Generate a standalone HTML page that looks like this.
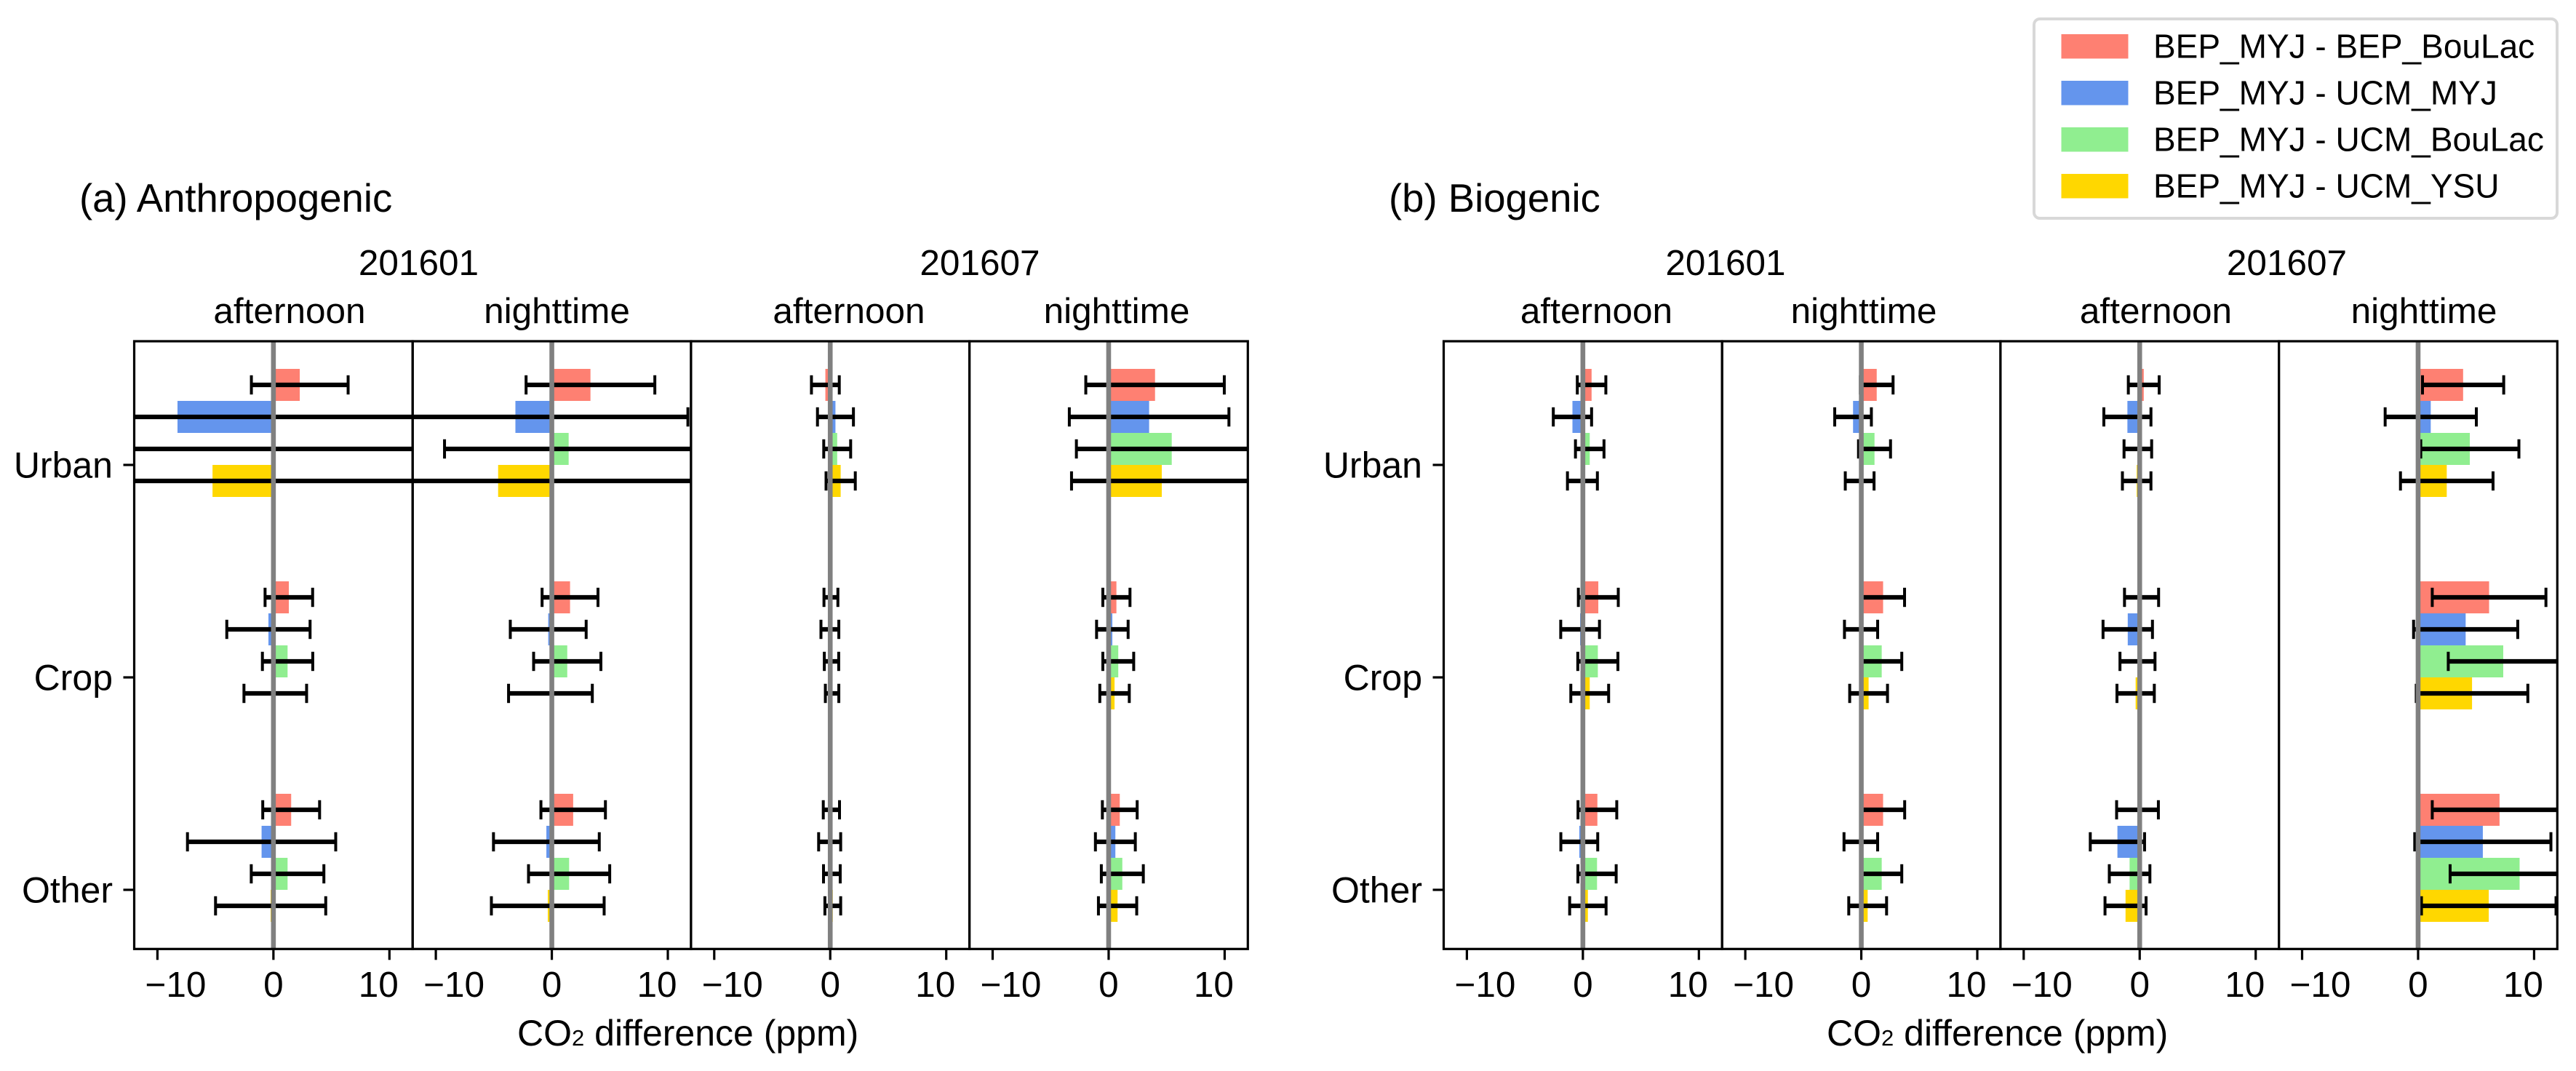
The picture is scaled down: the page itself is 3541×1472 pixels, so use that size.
<!DOCTYPE html>
<html lang="en">
<head>
<meta charset="utf-8">
<title>CO2 difference by land use</title>
<style>
html,body{margin:0;padding:0;background:#fff;}
body{width:3541px;height:1472px;overflow:hidden;}
svg{display:block;font-family:"Liberation Sans",Arial,sans-serif;}
text{fill:#000;}
</style>
</head>
<body>
<svg id="chart" xmlns="http://www.w3.org/2000/svg" width="3541" height="1472" viewBox="0 0 3541 1472">
  <rect x="0" y="0" width="3541" height="1472" fill="#fff"/>
  <text x="109" y="291" font-size="54.5">(a) Anthropogenic</text>
  <text x="1909" y="291" font-size="54.5">(b) Biogenic</text>
  <text x="575.5" y="378" font-size="49.5" text-anchor="middle">201601</text>
  <text x="1347" y="378" font-size="49.5" text-anchor="middle">201607</text>
  <text x="2372" y="378" font-size="49.5" text-anchor="middle">201601</text>
  <text x="3143.5" y="378" font-size="49.5" text-anchor="middle">201607</text>
  <text x="711" y="1437" font-size="50">CO<tspan font-size="31">2</tspan> difference (ppm)</text>
  <text x="2511" y="1437" font-size="50">CO<tspan font-size="31">2</tspan> difference (ppm)</text>
  <g id="plots"></g>
  <g>
    <rect x="2796" y="26" width="719" height="274" rx="8" ry="8" fill="#fff" stroke="#d8d8d8" stroke-width="4"/>
    <rect x="2833.5" y="47" width="92" height="33.5" fill="#FE8072"/>
    <text x="2960" y="79.6" font-size="46">BEP_MYJ - BEP_BouLac</text>
    <rect x="2833.5" y="111" width="92" height="33.5" fill="#6495ED"/>
    <text x="2960" y="143.5" font-size="46">BEP_MYJ - UCM_MYJ</text>
    <rect x="2833.5" y="175" width="92" height="33.5" fill="#90EE90"/>
    <text x="2960" y="207.5" font-size="46">BEP_MYJ - UCM_BouLac</text>
    <rect x="2833.5" y="239" width="92" height="33.5" fill="#FFD700"/>
    <text x="2960" y="271.6" font-size="46">BEP_MYJ - UCM_YSU</text>
  </g>
</svg>
<script>
// ---- data (ppm); order: Urban x4, Crop x4, Other x4 ----
const categories = ['Urban', 'Crop', 'Other'];
const seriesNames = ['bep-boulac', 'ucm-myj', 'ucm-boulac', 'ucm-ysu'];
const tickValues = [-10, 0, 10];
const tickLabels = ['\u221210', '0', '10'];
const periodLabels = ['afternoon', 'nighttime', 'afternoon', 'nighttime'];

const anthroJanAfternoonMean = [2.27,-8.27,-0.1,-5.25, 1.33,-0.43,1.22,0.16, 1.53,-1.02,1.22,-0.24];
const anthroJanAfternoonErr  = [4.17,25,25,25, 2.05,3.59,2.17,2.7, 2.45,6.39,3.13,4.75];
const anthroJanNightMean = [3.33,-3.14,1.45,-4.63, 1.57,-0.31,1.33,-0.12, 1.84,-0.47,1.49,-0.35];
const anthroJanNightErr  = [5.55,14.87,10.7,18, 2.41,3.27,2.9,3.61, 2.78,4.56,3.5,4.86];
const anthroJulAfternoonMean = [-0.42,0.45,0.6,0.9, 0.06,-0.03,0.11,0.16, 0.1,-0.05,0.14,0.22];
const anthroJulAfternoonErr  = [1.2,1.55,1.16,1.26, 0.6,0.77,0.62,0.58, 0.7,0.95,0.72,0.68];
const anthroJulNightMean = [4.0,3.49,5.44,4.58, 0.67,0.32,0.83,0.51, 0.96,0.58,1.18,0.77];
const anthroJulNightErr  = [5.97,6.88,8.22,7.78, 1.17,1.36,1.33,1.27, 1.5,1.72,1.81,1.65];

const bioJanAfternoonMean = [0.75,-0.9,0.59,-0.04, 1.33,-0.24,1.29,0.59, 1.25,-0.31,1.22,0.43];
const bioJanAfternoonErr  = [1.23,1.65,1.23,1.29, 1.72,1.67,1.73,1.63, 1.67,1.59,1.65,1.57];
const bioJanNightMean = [1.33,-0.71,1.14,-0.14, 1.88,-0.02,1.76,0.63, 1.88,-0.04,1.76,0.55];
const bioJanNightErr  = [1.41,1.58,1.38,1.24, 1.85,1.43,1.73,1.63, 1.86,1.45,1.73,1.63];
const bioJulAfternoonMean = [0.35,-1.06,-0.16,-0.26, 0.16,-1.03,-0.19,-0.35, -0.19,-1.92,-0.87,-1.22];
const bioJulAfternoonErr  = [1.33,2.03,1.19,1.23, 1.47,2.13,1.51,1.61, 1.8,2.34,1.75,1.77];
const bioJulNightMean = [3.88,1.09,4.46,2.47, 6.12,4.1,7.34,4.65, 7.02,5.58,8.75,6.09];
const bioJulNightErr  = [3.5,3.93,4.23,3.99, 4.9,4.49,4.74,4.81, 5.8,5.87,5.99,5.8];

const anthroMeans = [anthroJanAfternoonMean, anthroJanNightMean, anthroJulAfternoonMean, anthroJulNightMean];
const anthroErrs = [anthroJanAfternoonErr, anthroJanNightErr, anthroJulAfternoonErr, anthroJulNightErr];
const bioMeans = [bioJanAfternoonMean, bioJanNightMean, bioJulAfternoonMean, bioJulNightMean];
const bioErrs = [bioJanAfternoonErr, bioJanNightErr, bioJulAfternoonErr, bioJulNightErr];

// ---- layout ----
const SVG_NS = 'http://www.w3.org/2000/svg';
const plots = document.getElementById('plots');
const AX_TOP = 469, AX_BOTTOM = 1304.3, PANEL_W = 382.7, XLIM = 12;
const BAR_H = 44, GROUP_STEP = 292, FIRST_TICK_Y = 639;
const COLORS = ['#FE8072', '#6495ED', '#90EE90', '#FFD700'];

function make(tag, attrs, parent) {
  const node = document.createElementNS(SVG_NS, tag);
  Object.keys(attrs).forEach(function (k) { node.setAttribute(k, attrs[k]); });
  parent.appendChild(node);
  return node;
}
function xScale(left, v) { return left + (v + XLIM) * PANEL_W / (2 * XLIM); }
function groupTickY(g) { return FIRST_TICK_Y + g * GROUP_STEP; }
function barTopY(g, s) { return groupTickY(g) - 3 * BAR_H + s * BAR_H; }

function drawFacet(figId, figLeft, means, errs, clipPrefix, headerX) {
  const fig = make('g', {}, plots);
  
  

  means.forEach(function (mean, p) {
    const left = figLeft + p * PANEL_W;
    const err = errs[p];
    const panel = make('g', {}, fig);
    
    

    const cid = clipPrefix + p;
    const clip = make('clipPath', { id: cid }, panel);
    make('rect', { x: left, y: AX_TOP, width: PANEL_W, height: AX_BOTTOM - AX_TOP }, clip);
    const inner = make('g', { 'clip-path': 'url(#' + cid + ')' }, panel);

    // bars
    mean.forEach(function (v, i) {
      const g = Math.floor(i / 4), s = i % 4;
      const x0 = xScale(left, 0), x1 = xScale(left, v);
      const bar = make('rect', {
        x: Math.min(x0, x1), y: barTopY(g, s),
        width: Math.abs(x1 - x0), height: BAR_H, fill: COLORS[s]
      }, inner);
      
      
    });

    // error bars
    mean.forEach(function (v, i) {
      const g = Math.floor(i / 4), s = i % 4;
      const cy = barTopY(g, s) + BAR_H / 2;
      const lo = xScale(left, v - err[i]), hi = xScale(left, v + err[i]);
      const eb = make('g', { stroke: '#000', fill: 'none' }, inner);
      
      
      make('line', { x1: lo, x2: hi, y1: cy, y2: cy, 'stroke-width': 6.2 }, eb);
      make('line', { x1: lo, x2: lo, y1: cy - 13.2, y2: cy + 13.2, 'stroke-width': 4 }, eb);
      make('line', { x1: hi, x2: hi, y1: cy - 13.2, y2: cy + 13.2, 'stroke-width': 4 }, eb);
    });

    // zero reference line
    const zero = make('line', {
      x1: xScale(left, 0), x2: xScale(left, 0), y1: AX_TOP, y2: AX_BOTTOM,
      stroke: '#808080', 'stroke-width': 6.6
    }, panel);
    
    

    // frame
    const frame = make('rect', {
      x: left, y: AX_TOP, width: PANEL_W, height: AX_BOTTOM - AX_TOP,
      fill: 'none', stroke: '#000', 'stroke-width': 3.2
    }, panel);
    
    

    // x ticks and labels
    tickValues.forEach(function (t, k) {
      const tx = xScale(left, t);
      const tick = make('line', {
        x1: tx, x2: tx, y1: AX_BOTTOM, y2: AX_BOTTOM + 15, stroke: '#000', 'stroke-width': 3.2
      }, panel);
      
      
      const shift = t < 0 ? 25 : (t > 0 ? -15 : 0);
      const label = make('text', {
        x: tx + shift, y: 1370, 'font-size': 49.5, 'text-anchor': 'middle'
      }, panel);
      label.textContent = tickLabels[k];
      
      
    });

    // period header
    const header = make('text', {
      x: headerX[p], y: 444, 'font-size': 49.5, 'text-anchor': 'middle'
    }, panel);
    header.textContent = periodLabels[p];
    
    
  });

  // y ticks and labels
  categories.forEach(function (c, g) {
    const ty = groupTickY(g);
    const tick = make('line', {
      x1: figLeft - 15, x2: figLeft, y1: ty, y2: ty, stroke: '#000', 'stroke-width': 3.2
    }, fig);
    
    
    const label = make('text', {
      x: figLeft - 29.5, y: ty + 17.5, 'font-size': 50, 'text-anchor': 'end'
    }, fig);
    label.textContent = c;
    
    
  });
}

drawFacet('anthropogenic', 184.5, anthroMeans, anthroErrs, 'clipA', [398, 765.5, 1167, 1535]);
drawFacet('biogenic', 1984.5, bioMeans, bioErrs, 'clipB', [2194.5, 2562, 2963.5, 3332]);
</script>
</body>
</html>
